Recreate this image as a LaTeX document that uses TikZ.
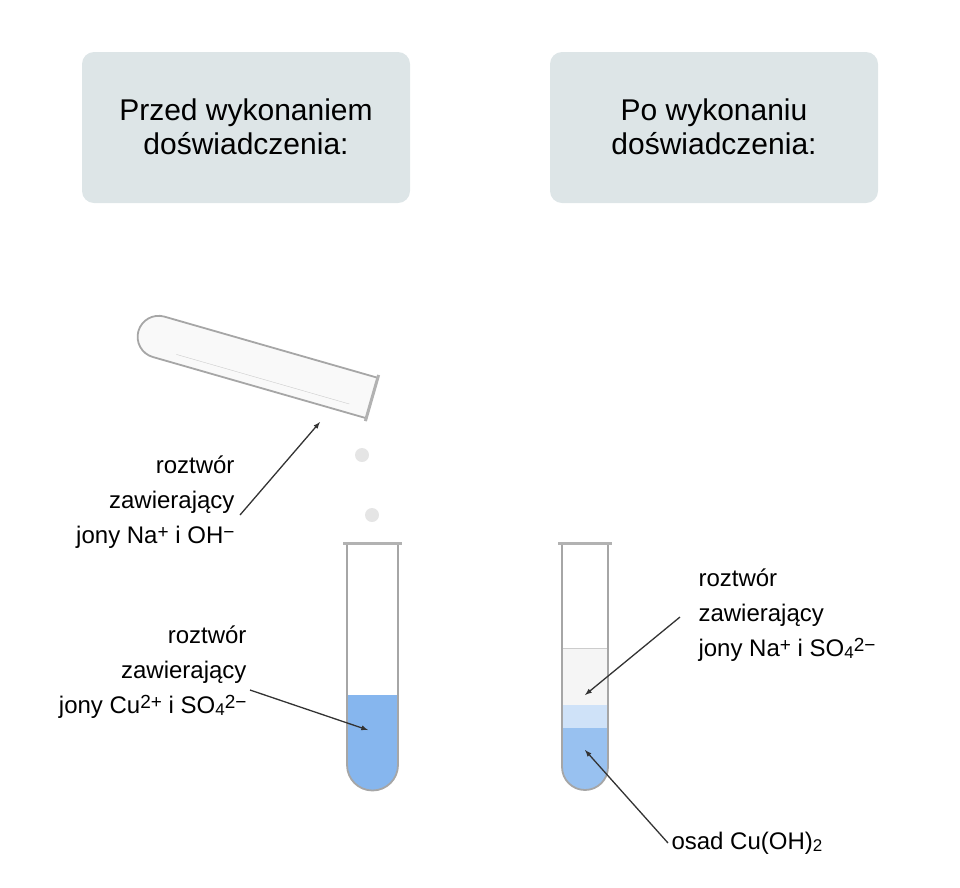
\documentclass[tikz,border=0pt]{standalone}
\usepackage{fontspec}
\setmainfont{Liberation Sans}
\newcommand{\mysup}[1]{\raisebox{0.4ex}{\fontsize{19}{19}\selectfont #1}}
\newcommand{\mysub}[1]{\raisebox{-0.2ex}{\fontsize{17}{17}\selectfont #1}}
\begin{document}
\begin{tikzpicture}[x=1pt,y=-1pt,
 hbox/.style={fill=boxc,rounded corners=12pt},
 ttl/.style={font=\fontsize{30}{34}\selectfont,align=center},
 lbl/.style={font=\fontsize{24}{35}\selectfont},
 arr/.style={draw=gray!40!black,line width=1.3pt,-latex},
 glass/.style={draw=gray!70,line width=1.8pt,fill=white}]
\definecolor{boxc}{HTML}{DDE5E7}
\definecolor{liq}{HTML}{86B6EE}
\useasboundingbox (0,0) rectangle (960,887);
\fill[hbox] (82,52) rectangle (410,203);
\fill[hbox] (550,52) rectangle (878,203);
\node[ttl] (t1) at (246,127) {Przed wykonaniem\\doświadczenia:};
\node[ttl] (t2) at (714,127) {Po wykonaniu\\doświadczenia:};
% tilted tube
\begin{scope}[shift={(372,398)},rotate=164]
\draw[glass,fill=gray!5] (0,-21) -- (222,-21) arc(-90:90:21) -- (0,21) -- cycle;
\draw[gray!60,line width=3pt] (0,-24) -- (0,24);
\draw[gray!40] (20,-12) -- (200,-12);
\end{scope}
\coordinate (tt) at (320,422);
\fill[gray!20] (362,455) circle (7);
\fill[gray!20] (372,515) circle (7);
% left tube
\fill[liq] (347,695) -- (398,695) -- (398,765) arc(0:180:25.5) -- cycle;
\draw[glass,fill=none] (347,543) -- (347,765) arc(180:0:25.5) -- (398,543);
\draw[gray!60,line width=3pt] (343,543) -- (402,543);
\coordinate (lq) at (368,730);
% right tube
\fill[gray!8] (562,648) rectangle (608,705);
\fill[liq!85] (562,728) -- (608,728) -- (608,767) arc(0:180:23) -- cycle;
\fill[liq!40] (562,705) rectangle (608,728);
\draw[gray!40] (562,648) -- (608,648);
\draw[glass,fill=none] (562,543) -- (562,767) arc(180:0:23) -- (608,543);
\draw[gray!60,line width=3pt] (558,543) -- (612,543);
\coordinate (rs) at (585,695);
\coordinate (rp) at (585,750);
% labels
\node[lbl,align=right,anchor=north east] (l1) at (238,452) {roztwór\\zawierający\\jony Na\mysup{+} i OH\mysup{−}};
\node[lbl,align=right,anchor=north east] (l2) at (250,622) {roztwór\\zawierający\\jony Cu\mysup{2+} i SO\mysub{4}\mysup{2−}};
\node[lbl,align=left,anchor=north west] (l3) at (695,565) {roztwór\\zawierający\\jony Na\mysup{+} i SO\mysub{4}\mysup{2−}};
\node[lbl,anchor=west] (l4) at (668,843) {osad Cu(OH)\mysub{2}};
\draw[arr] (240,515) -- (tt);
\draw[arr] (250,690) -- (lq);
\draw[arr] (680,617) -- (rs);
\draw[arr] (l4.west) -- (rp);
\end{tikzpicture}
\end{document}
